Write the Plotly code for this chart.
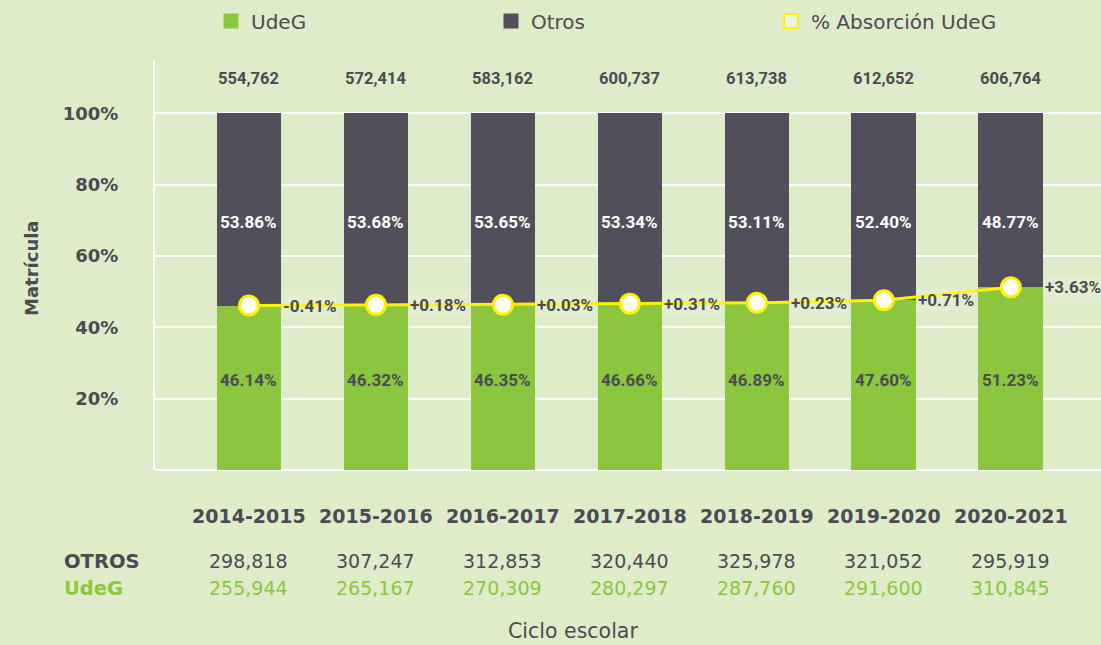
import plotly.graph_objects as go

years = ["2014-2015", "2015-2016", "2016-2017", "2017-2018", "2018-2019", "2019-2020", "2020-2021"]
otros = [298818, 307247, 312853, 320440, 325978, 321052, 295919]
udeg = [255944, 265167, 270309, 280297, 287760, 291600, 310845]
totals = [554762, 572414, 583162, 600737, 613738, 612652, 606764]
udeg_pct = [46.14, 46.32, 46.35, 46.66, 46.89, 47.60, 51.23]
otros_pct = [53.86, 53.68, 53.65, 53.34, 53.11, 52.40, 48.77]
changes = ["-0.41%", "+0.18%", "+0.03%", "+0.31%", "+0.23%", "+0.71%", "+3.63%"]
yticks = [20, 40, 60, 80, 100]

BG = "#dfecc9"
GREEN = "#8cc63e"
DARK = "#524f5c"
TXT = "#4b4b52"
YEL = "#fff200"
COND = "Roboto, Liberation Sans Narrow, sans-serif"
MAIN = "DejaVu Sans, sans-serif"

xs = list(range(len(years)))

fig = go.Figure()
fig.add_trace(go.Bar(
    x=xs, y=udeg_pct, marker=dict(color=GREEN, line=dict(width=0)), width=0.51,
    showlegend=False, hoverinfo="skip"))
fig.add_trace(go.Bar(
    x=xs, y=otros_pct, base=udeg_pct, marker=dict(color=DARK, line=dict(width=0)), width=0.51,
    showlegend=False, hoverinfo="skip"))
fig.add_trace(go.Scatter(
    x=xs, y=udeg_pct, mode="lines+markers",
    line=dict(color=YEL, width=3),
    marker=dict(size=19, color="white", line=dict(color=YEL, width=3)),
    showlegend=False, hoverinfo="skip"))

# legend entries
fig.add_trace(go.Scatter(x=[None], y=[None], mode="markers", name="UdeG",
                         marker=dict(symbol="square", size=15, color=GREEN)))
fig.add_trace(go.Scatter(x=[None], y=[None], mode="markers", name="Otros",
                         marker=dict(symbol="square", size=15, color=DARK)))
fig.add_trace(go.Scatter(x=[None], y=[None], mode="markers", name="% Absorción UdeG",
                         marker=dict(symbol="square", size=14, color="#eef4e2", line=dict(color=YEL, width=2))))

ann = []
for i, t in enumerate(totals):
    ann.append(dict(x=i, y=109.7, xref="x", yref="y", text=f"{t:,}", showarrow=False,
                    font=dict(family=COND, size=16.5, color=TXT, weight="bold")))
for i in xs:
    ann.append(dict(x=i, y=69.7, xref="x", yref="y", text=f"{otros_pct[i]:.2f}%", showarrow=False,
                    font=dict(family=COND, size=17, color="white", weight="bold")))
    ann.append(dict(x=i, y=25.2, xref="x", yref="y", text=f"{udeg_pct[i]:.2f}%", showarrow=False,
                    font=dict(family=COND, size=17, color=TXT, weight="bold")))
for i, c in enumerate(changes):
    ann.append(dict(x=i + 0.255, y=udeg_pct[i], xref="x", yref="y", text=c, showarrow=False,
                    xanchor="left", yanchor="middle", bgcolor="rgba(255,255,255,0.12)",
                    font=dict(family=COND, size=17, color=TXT, weight="bold")))
for i, y in enumerate(years):
    ann.append(dict(x=i, y=-0.112, xref="x", yref="paper", text=f"<b>{y}</b>", showarrow=False,
                    yanchor="middle", font=dict(family=MAIN, size=19, color=TXT)))
    ann.append(dict(x=i, y=-0.222, xref="x", yref="paper", text=f"{otros[i]:,}", showarrow=False,
                    yanchor="middle", font=dict(family=MAIN, size=19, color=TXT)))
    ann.append(dict(x=i, y=-0.288, xref="x", yref="paper", text=f"{udeg[i]:,}", showarrow=False,
                    yanchor="middle", font=dict(family=MAIN, size=19, color=GREEN)))
W_PLOT = 946.0
def px(v):
    return (v - 155) / W_PLOT
ann.append(dict(x=px(62), y=-0.222, xref="paper", yref="paper", text="<b>OTROS</b>", showarrow=False,
                xanchor="left", yanchor="middle", font=dict(family=MAIN, size=19.5, color=TXT)))
ann.append(dict(x=px(62), y=-0.288, xref="paper", yref="paper", text="<b>UdeG</b>", showarrow=False,
                xanchor="left", yanchor="middle", font=dict(family=MAIN, size=19.5, color=GREEN)))
ann.append(dict(x=px(573), y=-0.393, xref="paper", yref="paper", text="Ciclo escolar", showarrow=False,
                xanchor="center", yanchor="middle", font=dict(family=MAIN, size=20.5, color=TXT)))
ann.append(dict(x=px(31), y=(470 - 268) / 410, xref="paper", yref="paper", text="<b>Matrícula</b>",
                showarrow=False, textangle=-90, xanchor="center", yanchor="middle",
                font=dict(family=MAIN, size=18, color=TXT)))

fig.update_layout(
    width=1101, height=645,
    margin=dict(l=155, r=0, t=60, b=175, autoexpand=False),
    paper_bgcolor=BG, plot_bgcolor=BG,
    barmode="overlay", bargap=0,
    showlegend=True,
    legend=dict(orientation="h", x=px(211), y=(470 - 21) / 410, xanchor="left", yanchor="middle",
                entrywidth=235, entrywidthmode="pixels",
                font=dict(family=MAIN, size=20, color=TXT), bgcolor="rgba(0,0,0,0)",
                itemclick=False),
    xaxis=dict(range=[-0.74, 6.71], showgrid=False, showticklabels=False, zeroline=False,
               showline=False, fixedrange=True),
    yaxis=dict(range=[0, 115], tickvals=yticks, ticktext=[f"<b>{v}%</b>" for v in yticks],
               tickfont=dict(family=MAIN, size=18, color=TXT), ticklabelstandoff=31,
               showgrid=True, gridcolor="white", gridwidth=2,
               zeroline=True, zerolinecolor="white", zerolinewidth=2,
               showline=True, linecolor="white", linewidth=2, ticks=""),
    annotations=ann,
)

fig.write_html("out.html", config={"displayModeBar": False},
               post_script="document.body.style.margin='0';document.body.style.background='%s';" % BG)
